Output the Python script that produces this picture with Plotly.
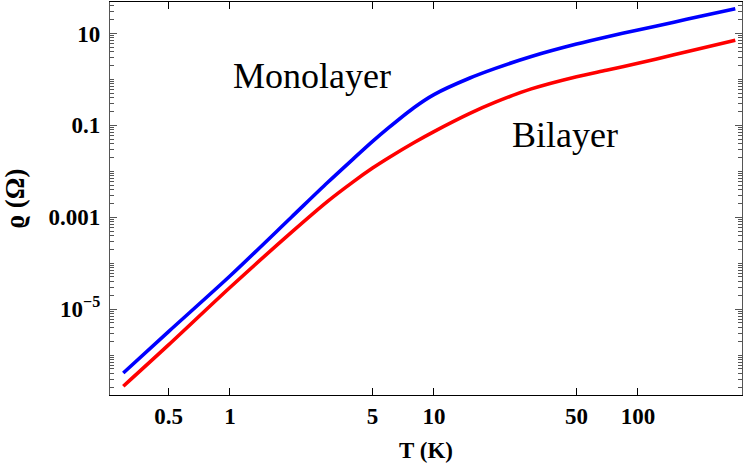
import numpy as np
import plotly.graph_objects as go

# Temperature (K)
T = [0.3, 0.5, 1, 2, 3, 4, 5, 6, 8, 10, 15, 20, 30, 50, 70, 100, 150, 200, 300]
# Resistivity (Ohm)
rho_mono = [4.07e-7, 3.24e-6, 5.25e-5, 1.0e-3, 5.62e-3, 0.0182, 0.0447, 0.0891, 0.2455,
            0.468, 1.072, 1.738, 3.162, 5.888, 8.414, 11.89, 17.58, 23.44, 34.67]
rho_bi = [2.09e-7, 1.66e-6, 2.95e-5, 4.68e-4, 2.19e-3, 5.82e-3, 0.01175, 0.01972, 0.04227,
          0.0731, 0.182, 0.319, 0.622, 1.148, 1.585, 2.239, 3.428, 4.624, 7.079]

x_ticks = [0.5, 1, 5, 10, 50, 100]
x_ticktext = ["0.5", "1", "5", "10", "50", "100"]
y_ticks = [10, 0.1, 0.001, 1e-5]
y_ticktext = ["10", "0.1", "0.001", "10<sup>\u22125</sup>"]

minor_y = [m * 10.0 ** e for e in range(-8, 3) for m in range(1, 10)
           if not any(abs(m * 10.0 ** e - v) / v < 1e-9 for v in y_ticks)]

serif = "Liberation Serif, Times New Roman, serif"

fig = go.Figure()
fig.add_trace(go.Scatter(x=T, y=rho_mono, mode="lines",
                         line=dict(color="#0000ff", width=3.6, shape="spline", smoothing=0.8),
                         showlegend=False, name="Monolayer"))
fig.add_trace(go.Scatter(x=T, y=rho_bi, mode="lines",
                         line=dict(color="#ff0000", width=3.6, shape="spline", smoothing=0.8),
                         showlegend=False, name="Bilayer"))

fig.add_annotation(x=np.log10(2.52), y=0.065, text="Monolayer", showarrow=False,
                   font=dict(family=serif, size=36, color="black"), xanchor="center", yanchor="middle")
fig.add_annotation(x=np.log10(43.9), y=-1.205, text="Bilayer", showarrow=False,
                   font=dict(family=serif, size=36, color="black"), xanchor="center", yanchor="middle")

fig.update_layout(
    width=743, height=466,
    margin=dict(l=110, r=1, t=2, b=71),
    plot_bgcolor="white", paper_bgcolor="white",
    xaxis=dict(type="log", range=[-0.588, 2.51], tickvals=x_ticks, ticktext=x_ticktext,
               ticks="inside", ticklen=7, tickcolor="black", tickwidth=1,
               showline=True, linecolor="black", linewidth=1.3, mirror="ticks",
               showgrid=False, zeroline=False,
               tickfont=dict(family=serif, size=23, color="black", weight="bold"),
               title=dict(text="<b>T (K)</b>", font=dict(family=serif, size=23, color="black"), standoff=14)),
    yaxis=dict(type="log", range=[-6.87, 1.685], tickvals=y_ticks, ticktext=y_ticktext,
               ticks="inside", ticklen=7, tickcolor="#555", tickwidth=1,
               showline=True, linecolor="#555", linewidth=1.3, mirror="ticks",
               showgrid=False, zeroline=False, ticklabelstandoff=4,
               minor=dict(tickvals=minor_y, ticks="inside", ticklen=3.5, tickcolor="#555", showgrid=False),
               tickfont=dict(family=serif, size=23, color="black", weight="bold"),
               title=dict(text="<b>\u03f1 (\u03a9)</b>", font=dict(family=serif, size=27, color="black"), standoff=20)),
)

fig.write_html("out.html")
